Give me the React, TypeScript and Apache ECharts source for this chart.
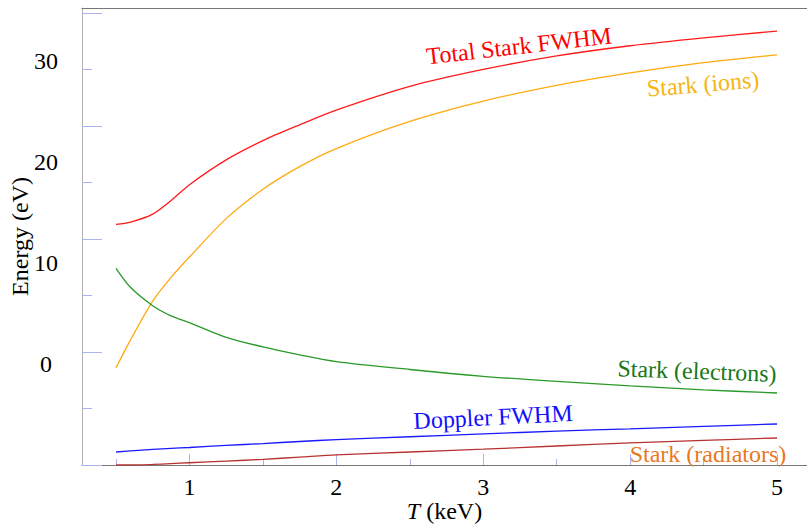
import React, { useEffect, useRef } from "react";
import * as echarts from "echarts";

// T (keV) sample points
const T = [0.5, 0.6, 0.75, 0.875, 1.0, 1.25, 1.5, 1.75, 2.0, 2.5, 3.0, 3.5, 4.0, 4.5, 5.0];
// Energies (eV)
const totalStark = [21.3, 21.5, 22.2, 23.4, 24.8, 27.0, 28.7, 30.1, 31.4, 33.5, 35.0, 36.2, 37.1, 37.8, 38.4];
const starkIons = [8.6, 11.1, 14.5, 16.6, 18.4, 21.8, 24.4, 26.4, 28.0, 30.4, 32.2, 33.6, 34.7, 35.6, 36.3];
const starkElectrons = [17.4, 15.7, 14.1, 13.2, 12.6, 11.3, 10.45, 9.75, 9.15, 8.45, 7.85, 7.4, 7.0, 6.65, 6.37];
const doppler = [1.15, 1.25, 1.38, 1.47, 1.55, 1.73, 1.9, 2.08, 2.25, 2.5, 2.75, 3.0, 3.2, 3.42, 3.63];
const starkRadiators = [0.0, 0.0, 0.05, 0.12, 0.2, 0.35, 0.5, 0.7, 0.9, 1.15, 1.4, 1.68, 1.95, 2.18, 2.39];

const xMajorTicks = [1, 2, 3, 4, 5];
const xMinorTicks = [0.5, 1.5, 2.5, 3.5, 4.5];
const yMajorTicks = [0, 10, 20, 30, 40];
const yMinorTicks = [5, 15, 25, 35];
const yLabelValues = [0, 10, 20, 30];

const FONT = "Liberation Serif, serif";
const FS = 24;

const pairs = (ys: number[]) => T.map((t, i) => [t, ys[i]]);

export default function App() {
  const ref = useRef<HTMLDivElement>(null);
  useEffect(() => {
    if (!ref.current) return;
    const chart = echarts.init(ref.current, null, { renderer: "svg" });
    const xMin = 0.2686;
    const xMax = 5.204;
    const tickColor = "#aab2f2";
    const lineSeries = (name: string, ys: number[], color: string) => ({
      name,
      type: "line",
      data: pairs(ys),
      smooth: 0.3,
      showSymbol: false,
      symbol: "none",
      lineStyle: { color, width: 1.3 },
      xAxisIndex: 0,
      yAxisIndex: 0,
      z: 3,
    });
    const textEl = (text: string, x: number, y: number, rotation: number, fill: string) => ({
      type: "text",
      x,
      y,
      rotation,
      style: {
        text,
        fill,
        fontSize: FS,
        fontFamily: FONT,
        align: "center",
        verticalAlign: "middle",
        textAlign: "center",
        textVerticalAlign: "middle",
      },
      z: 10,
    });
    chart.setOption({
      animation: false,
      backgroundColor: "#ffffff",
      textStyle: { fontFamily: FONT },
      grid: { left: 82, right: 0, top: 8, bottom: 60, containLabel: false, outerBoundsMode: "none" },
      xAxis: [
        {
          type: "value",
          min: xMin,
          max: xMax,
          position: "bottom",
          axisLine: { show: true, onZero: false, lineStyle: { color: "#777777", width: 1 } },
          axisTick: { show: true, inside: true, length: 11, customValues: xMajorTicks, lineStyle: { color: tickColor } },
          axisLabel: {
            show: true,
            customValues: xMajorTicks,
            fontSize: FS,
            fontFamily: FONT,
            color: "#000",
            margin: 10,
          },
          splitLine: { show: false },
          name: "{i|T} (keV)",
          nameLocation: "middle",
          nameGap: 34,
          nameMoveOverlap: false,
          nameTextStyle: {
            fontSize: FS,
            fontFamily: FONT,
            color: "#000",
            rich: { i: { fontStyle: "italic", fontSize: FS, fontFamily: FONT, color: "#000" } },
          },
        },
        {
          type: "value",
          min: xMin,
          max: xMax,
          position: "bottom",
          axisLine: { show: false, onZero: false },
          axisTick: { show: true, inside: true, length: 6, customValues: xMinorTicks, lineStyle: { color: tickColor } },
          axisLabel: { show: false },
          splitLine: { show: false },
        },
        {
          type: "value",
          min: xMin,
          max: xMax,
          position: "top",
          axisLine: { show: true, onZero: false, lineStyle: { color: "#777777", width: 1 } },
          axisTick: { show: false },
          axisLabel: { show: false },
          splitLine: { show: false },
        },
      ],
      yAxis: [
        {
          type: "value",
          min: 0,
          max: 40.44,
          position: "left",
          axisLine: { show: true, onZero: false, lineStyle: { color: "#b0b0b0", width: 1 } },
          axisTick: { show: true, inside: true, length: 20, customValues: yMajorTicks, lineStyle: { color: tickColor } },
          axisLabel: { show: false },
          splitLine: { show: false },
        },
        {
          type: "value",
          min: 0,
          max: 40.44,
          position: "left",
          axisLine: { show: false, onZero: false },
          axisTick: { show: true, inside: true, length: 10, customValues: yMinorTicks, lineStyle: { color: tickColor } },
          axisLabel: { show: false },
          splitLine: { show: false },
        },
        {
          type: "value",
          min: -10,
          max: 35.25,
          position: "left",
          axisLine: { show: false, onZero: false },
          axisTick: { show: false },
          axisLabel: {
            show: true,
            customValues: yLabelValues,
            fontSize: FS,
            fontFamily: FONT,
            color: "#000",
            align: "center",
            margin: 36,
          },
          splitLine: { show: false },
          name: "Energy (eV)",
          nameLocation: "middle",
          nameRotate: 90,
          nameGap: 50,
          nameMoveOverlap: false,
          nameTextStyle: { fontSize: FS, fontFamily: FONT, color: "#000" },
        },
      ],
      series: [
        lineSeries("Total Stark FWHM", totalStark, "#ff1a1a"),
        lineSeries("Stark (ions)", starkIons, "#ffaa10"),
        lineSeries("Stark (electrons)", starkElectrons, "#2a9a2a"),
        lineSeries("Doppler FWHM", doppler, "#1a1aff"),
        lineSeries("Stark (radiators)", starkRadiators, "#b83232"),
      ],
      graphic: [
        textEl("Total Stark FWHM", 519, 46, 0.113, "#ff0000"),
        textEl("Stark (ions)", 703, 84, 0.08, "#f5b512"),
        textEl("Stark (electrons)", 697, 371, -0.035, "#187818"),
        textEl("Doppler FWHM", 493, 417, 0.05, "#1010ff"),
        textEl("Stark (radiators)", 708, 454, 0, "#e8781e"),
      ],
    });
    return () => chart.dispose();
  }, []);
  return (
    <div
      ref={ref}
      style={{ position: "fixed", left: 0, top: 0, width: 807, height: 525, background: "#fff" }}
    />
  );
}
